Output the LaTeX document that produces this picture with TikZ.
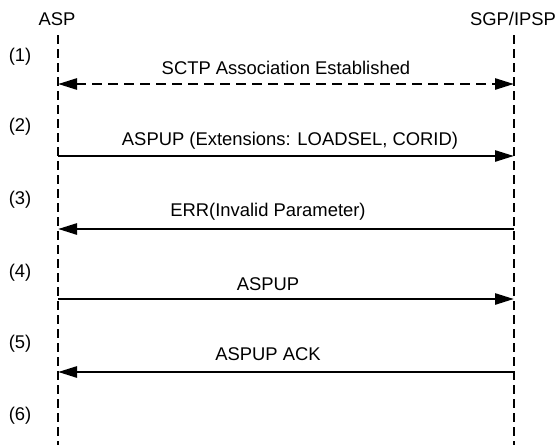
\documentclass[tikz,border=0pt]{standalone}
\usepackage{fontspec}
\setmainfont{Liberation Sans}
\usetikzlibrary{arrows.meta}
\begin{document}
\begin{tikzpicture}[x=1pt,y=-1pt,
  lbl/.style={font=\fontsize{18.4}{20}\selectfont, inner sep=0pt, anchor=center},
  life/.style={line width=2.6pt, dash pattern=on 9pt off 5pt},
  msg/.style={line width=2.6pt, -{Triangle[length=19pt,width=11pt]}},
  dmsg/.style={line width=2.6pt, dash pattern=on 10pt off 6pt, {Triangle[length=19pt,width=11pt]}-{Triangle[length=19pt,width=11pt]}}]
\useasboundingbox (0,0) rectangle (558,445);
\node[lbl] (asp) at (57,19) {ASP};
\node[lbl] (sgp) at (513,19) {SGP/IPSP};
\coordinate (a0) at (58,35);
\coordinate (a1) at (58,445);
\coordinate (b0) at (514,35);
\coordinate (b1) at (514,445);
\draw[life] (a0) -- (a1);
\draw[life] (b0) -- (b1);
\foreach \i/\y in {1/57,2/127,3/200,4/273,5/344,6/416}
  \node[lbl] (s\i) at (20,\y) {(\i)};
\coordinate (m1a) at (58,84); \coordinate (m1b) at (514,84);
\coordinate (m2a) at (58,156); \coordinate (m2b) at (514,156);
\coordinate (m3a) at (58,229); \coordinate (m3b) at (514,229);
\coordinate (m4a) at (58,299); \coordinate (m4b) at (514,299);
\coordinate (m5a) at (58,372); \coordinate (m5b) at (514,372);
\draw[dmsg] (m1a) -- (m1b);
\draw[msg] (m2a) -- (m2b);
\draw[msg] (m3b) -- (m3a);
\draw[msg] (m4a) -- (m4b);
\draw[msg] (m5b) -- (m5a);
\node[lbl] (t1) at (286,68) {SCTP Association Established};
\node[lbl] (t2) at (290,141) {ASPUP (Extensions: LOADSEL, CORID)};
\node[lbl] (t3) at (268,212) {ERR(Invalid Parameter)};
\node[lbl] (t4) at (268,284) {ASPUP};
\node[lbl] (t5) at (268,354) {ASPUP ACK};
\end{tikzpicture}
\end{document}
